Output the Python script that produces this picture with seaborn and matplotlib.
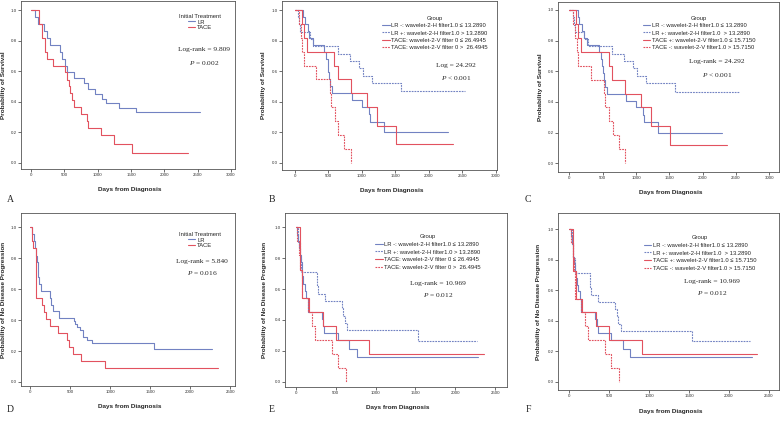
import numpy as np
import pandas as pd
import seaborn as sns
import matplotlib.pyplot as plt

# -----------------------------
# 1. Data
# -----------------------------
# Overall survival, initial treatment
os_lr_days = [0, 60, 100, 200, 235, 290, 430, 470, 510, 535, 640, 800, 860, 960, 1070, 1125, 1320, 1580, 2530]
os_lr_surv = [1.0, 0.955, 0.909, 0.864, 0.818, 0.773, 0.727, 0.682, 0.636, 0.591, 0.556, 0.52, 0.485, 0.45, 0.42, 0.39, 0.36, 0.33, 0.33]
os_tace_days = [0, 115, 165, 205, 240, 330, 515, 535, 565, 590, 615, 645, 750, 835, 855, 1045, 1240, 1515, 2350]
os_tace_surv = [1.0, 0.909, 0.818, 0.727, 0.682, 0.636, 0.591, 0.545, 0.5, 0.455, 0.409, 0.364, 0.318, 0.273, 0.227, 0.182, 0.121, 0.061, 0.061]

# Overall survival, radiomics groups
os_lrm_days = [0, 125, 150, 195, 215, 265, 440, 470, 490, 500, 515, 530, 560, 850, 1000, 1105, 1115, 1330, 2290]
os_lrm_surv = [1.0, 0.955, 0.909, 0.864, 0.818, 0.773, 0.727, 0.682, 0.636, 0.591, 0.545, 0.5, 0.455, 0.409, 0.364, 0.318, 0.266, 0.199, 0.199]
os_lrp_days = [0, 50, 65, 80, 220, 275, 640, 820, 960, 1010, 1150, 1590, 2540]
os_lrp_surv = [1.0, 0.952, 0.905, 0.857, 0.81, 0.762, 0.714, 0.667, 0.619, 0.571, 0.524, 0.467, 0.467]
os_tl_days = [0, 105, 130, 180, 590, 640, 830, 1080, 1230, 1515, 2360]
os_tl_surv = [1.0, 0.909, 0.818, 0.727, 0.636, 0.545, 0.455, 0.364, 0.242, 0.121, 0.121]
os_th_days = [0, 60, 90, 110, 130, 320, 520, 540, 600, 650, 740, 840]
os_th_surv = [1.0, 0.909, 0.818, 0.727, 0.636, 0.545, 0.455, 0.364, 0.273, 0.182, 0.091, 0.0]

# Progression-free, initial treatment
pfs_lr_days = [0, 30, 45, 60, 75, 85, 95, 105, 115, 140, 250, 265, 290, 365, 545, 565, 590, 625, 665, 715, 770, 1545, 2280]
pfs_lr_surv = [1.0, 0.955, 0.909, 0.864, 0.818, 0.773, 0.727, 0.682, 0.636, 0.591, 0.545, 0.5, 0.458, 0.417, 0.396, 0.375, 0.354, 0.333, 0.292, 0.271, 0.25, 0.214, 0.214]
pfs_tace_days = [0, 30, 42, 70, 150, 175, 200, 250, 355, 460, 490, 540, 633, 938, 2354]
pfs_tace_surv = [1.0, 0.909, 0.864, 0.545, 0.5, 0.455, 0.409, 0.364, 0.318, 0.273, 0.227, 0.182, 0.136, 0.091, 0.091]

# Progression-free, radiomics groups
pfs_lrm_days = [0, 20, 35, 45, 55, 65, 75, 85, 95, 115, 135, 155, 325, 345, 360, 530, 670, 765, 2285]
pfs_lrm_surv = [1.0, 0.955, 0.909, 0.864, 0.818, 0.773, 0.727, 0.682, 0.636, 0.591, 0.545, 0.455, 0.409, 0.364, 0.318, 0.273, 0.212, 0.159, 0.159]
pfs_lrp_days = [0, 35, 50, 70, 265, 280, 365, 575, 595, 615, 645, 1535, 2265]
pfs_lrp_surv = [1.0, 0.905, 0.81, 0.714, 0.619, 0.571, 0.524, 0.476, 0.429, 0.381, 0.333, 0.267, 0.267]
pfs_tl_days = [0, 55, 85, 165, 340, 500, 915, 2355]
pfs_tl_surv = [1.0, 0.727, 0.545, 0.455, 0.364, 0.273, 0.182, 0.182]
pfs_th_days = [0, 20, 45, 60, 75, 150, 205, 240, 455, 530, 630]
pfs_th_surv = [1.0, 0.909, 0.818, 0.727, 0.545, 0.455, 0.364, 0.273, 0.182, 0.091, 0.0]

treat_labels = ["LR", "TACE"]
group_labels_b = ["LR -: wavelet-2-H filter1.0 \u2264 13.2890",
                  "LR +: wavelet-2-H filter1.0 > 13.2890",
                  "TACE: wavelet-2-V filter 0 \u2264 26.4945",
                  "TACE: wavelet-2-V filter 0 >  26.4945"]
group_labels_c = ["LR -: wavelet-2-H filter1.0 \u2264 13.2890",
                  "LR +: wavelet-2-H filter1.0  > 13.2890",
                  "TACE +: wavelet-2-V filter1.0 \u2264 15.7150",
                  "TACE -: wavelet-2-V filter1.0 > 15.7150"]

stats_text = {
    "A": ("Log-rank = 9.809", "$P$ = 0.002"),
    "B": ("Log = 24.292", "$P$ < 0.001"),
    "C": ("Log-rank = 24.292", "$P$ < 0.001"),
    "D": ("Log-rank = 5.840", "$P$ = 0.016"),
    "E": ("Log-rank = 10.969", "$P$ = 0.012"),
    "F": ("Log-rank = 10.969", "$P$ = 0.012"),
}

BLUE = "#7282c2"
RED = "#e2525f"
W, H = 782, 421

# -----------------------------
# 2. Style
# -----------------------------
sns.set_theme(style="ticks")
plt.rcParams["font.family"] = ["Liberation Sans", "DejaVu Sans"]
plt.rcParams["mathtext.fontset"] = "custom"
plt.rcParams["mathtext.rm"] = "Liberation Serif"
plt.rcParams["mathtext.it"] = "Liberation Serif:italic"

fig = plt.figure(figsize=(W / 100, H / 100), dpi=100)


def px_box(x0, y0, x1, y1):
    return [x0 / W, 1 - y1 / H, (x1 - x0) / W, (y1 - y0) / H]


def make_df(curves, labels):
    frames = []
    for (d, s), lab in zip(curves, labels):
        frames.append(pd.DataFrame({"day": d, "surv": s, "group": lab}))
    return pd.concat(frames, ignore_index=True)


def draw_panel(key, box, xlim, ylim, xmax_tick, curves, labels, ylabel,
               leg_title, leg_center, leg_spacing, stat_pos, letter_pos, ylab_x):
    ax = fig.add_axes(px_box(*box))
    df = make_df(curves, labels)
    if len(labels) == 2:
        palette = {labels[0]: BLUE, labels[1]: RED}
        dashes = {labels[0]: "", labels[1]: ""}
    else:
        palette = {labels[0]: BLUE, labels[1]: BLUE, labels[2]: RED, labels[3]: RED}
        dashes = {labels[0]: "", labels[1]: (1.6, 0.9), labels[2]: "", labels[3]: (1.6, 0.9)}
    sns.lineplot(data=df, x="day", y="surv", hue="group", style="group",
                 hue_order=labels, style_order=labels, palette=palette, dashes=dashes,
                 drawstyle="steps-post", estimator=None, sort=False, linewidth=0.8, ax=ax)
    ax.set_xlim(*xlim)
    ax.set_ylim(*ylim)
    ax.set_xticks(np.arange(0, xmax_tick + 1, 500))
    ax.set_yticks([0, 0.2, 0.4, 0.6, 0.8, 1.0])
    ax.set_yticklabels(["0.0", "0.2", "0.4", "0.6", "0.8", "1.0"])
    ax.tick_params(labelsize=3.2, length=2, width=0.5, pad=1, colors="#333333")
    for sp in ax.spines.values():
        sp.set_linewidth(0.6)
        sp.set_color("#555555")
    ax.set_xlabel("Days from Diagnosis", fontsize=4.6, fontweight="bold")
    ax.set_ylabel(ylabel, fontsize=4.6, fontweight="bold")
    ax.xaxis.set_label_coords(0.51, -0.105)
    ax.yaxis.set_label_coords(ylab_x, 0.5)

    sns.move_legend(ax, "center", bbox_to_anchor=(leg_center[0] / W, 1 - leg_center[1] / H),
                    bbox_transform=fig.transFigure, frameon=False, title=leg_title,
                    fontsize=4.2, title_fontsize=4.2, handlelength=1.3, handletextpad=0.3,
                    labelspacing=leg_spacing, borderpad=0.1, borderaxespad=0)

    lr, pv = stats_text[key]
    fig.text(stat_pos[0] / W, 1 - stat_pos[1] / H, lr, ha="center", va="center",
             fontsize=5.3, family="Liberation Serif")
    fig.text(stat_pos[0] / W, 1 - stat_pos[2] / H, pv, ha="center", va="center",
             fontsize=5.3, family="Liberation Serif")
    fig.text(letter_pos[0] / W, 1 - letter_pos[1] / H, key, ha="center", va="center",
             fontsize=7, family="Liberation Serif")
    return ax


os_treat = [(os_lr_days, os_lr_surv), (os_tace_days, os_tace_surv)]
os_group = [(os_lrm_days, os_lrm_surv), (os_lrp_days, os_lrp_surv),
            (os_tl_days, os_tl_surv), (os_th_days, os_th_surv)]
pfs_treat = [(pfs_lr_days, pfs_lr_surv), (pfs_tace_days, pfs_tace_surv)]
pfs_group = [(pfs_lrm_days, pfs_lrm_surv), (pfs_lrp_days, pfs_lrp_surv),
             (pfs_tl_days, pfs_tl_surv), (pfs_th_days, pfs_th_surv)]

# -----------------------------
# 3. Panels
# -----------------------------
draw_panel("A", (21, 1, 235, 169), (-150, 3060), (-0.041, 1.059), 3000, os_treat, treat_labels,
           "Probability of Survival", "Initial Treatment", (200, 22), 0.05, (204, 50, 63), (10, 199), -0.07)
draw_panel("B", (282, 1, 497, 170), (-194, 3019), (-0.048, 1.059), 3000, os_group, group_labels_b,
           "Probability of Survival", "Group", (435, 33), 0.4, (456, 66, 78), (272, 199), -0.074)
draw_panel("C", (558, 2, 779, 172), (-170, 3145), (-0.057, 1.052), 3000, os_group, group_labels_c,
           "Probability of Survival", "Group", (699, 33), 0.4, (717, 62, 75), (528, 199), -0.068)
draw_panel("D", (21, 213, 235, 386), (-112, 2562), (-0.026, 1.093), 2500, pfs_treat, treat_labels,
           "Probability of No Disease Progression", "Initial Treatment", (200, 240), 0.05,
           (202, 262, 273), (10, 409), -0.07)
draw_panel("E", (285, 213, 507, 387), (-134, 2646), (-0.034, 1.093), 2500, pfs_group, group_labels_b,
           "Probability of No Disease Progression", "Group", (428, 252), 0.45,
           (438, 283, 295), (272, 409), -0.081)
draw_panel("F", (558, 213, 779, 390), (-137, 2625), (-0.054, 1.105), 2500, pfs_group, group_labels_c,
           "Probability of No Disease Progression", "Group", (700, 253), 0.45,
           (712, 281, 293), (528, 409), -0.077)

fig.savefig("out.png", dpi=100, facecolor="white")
